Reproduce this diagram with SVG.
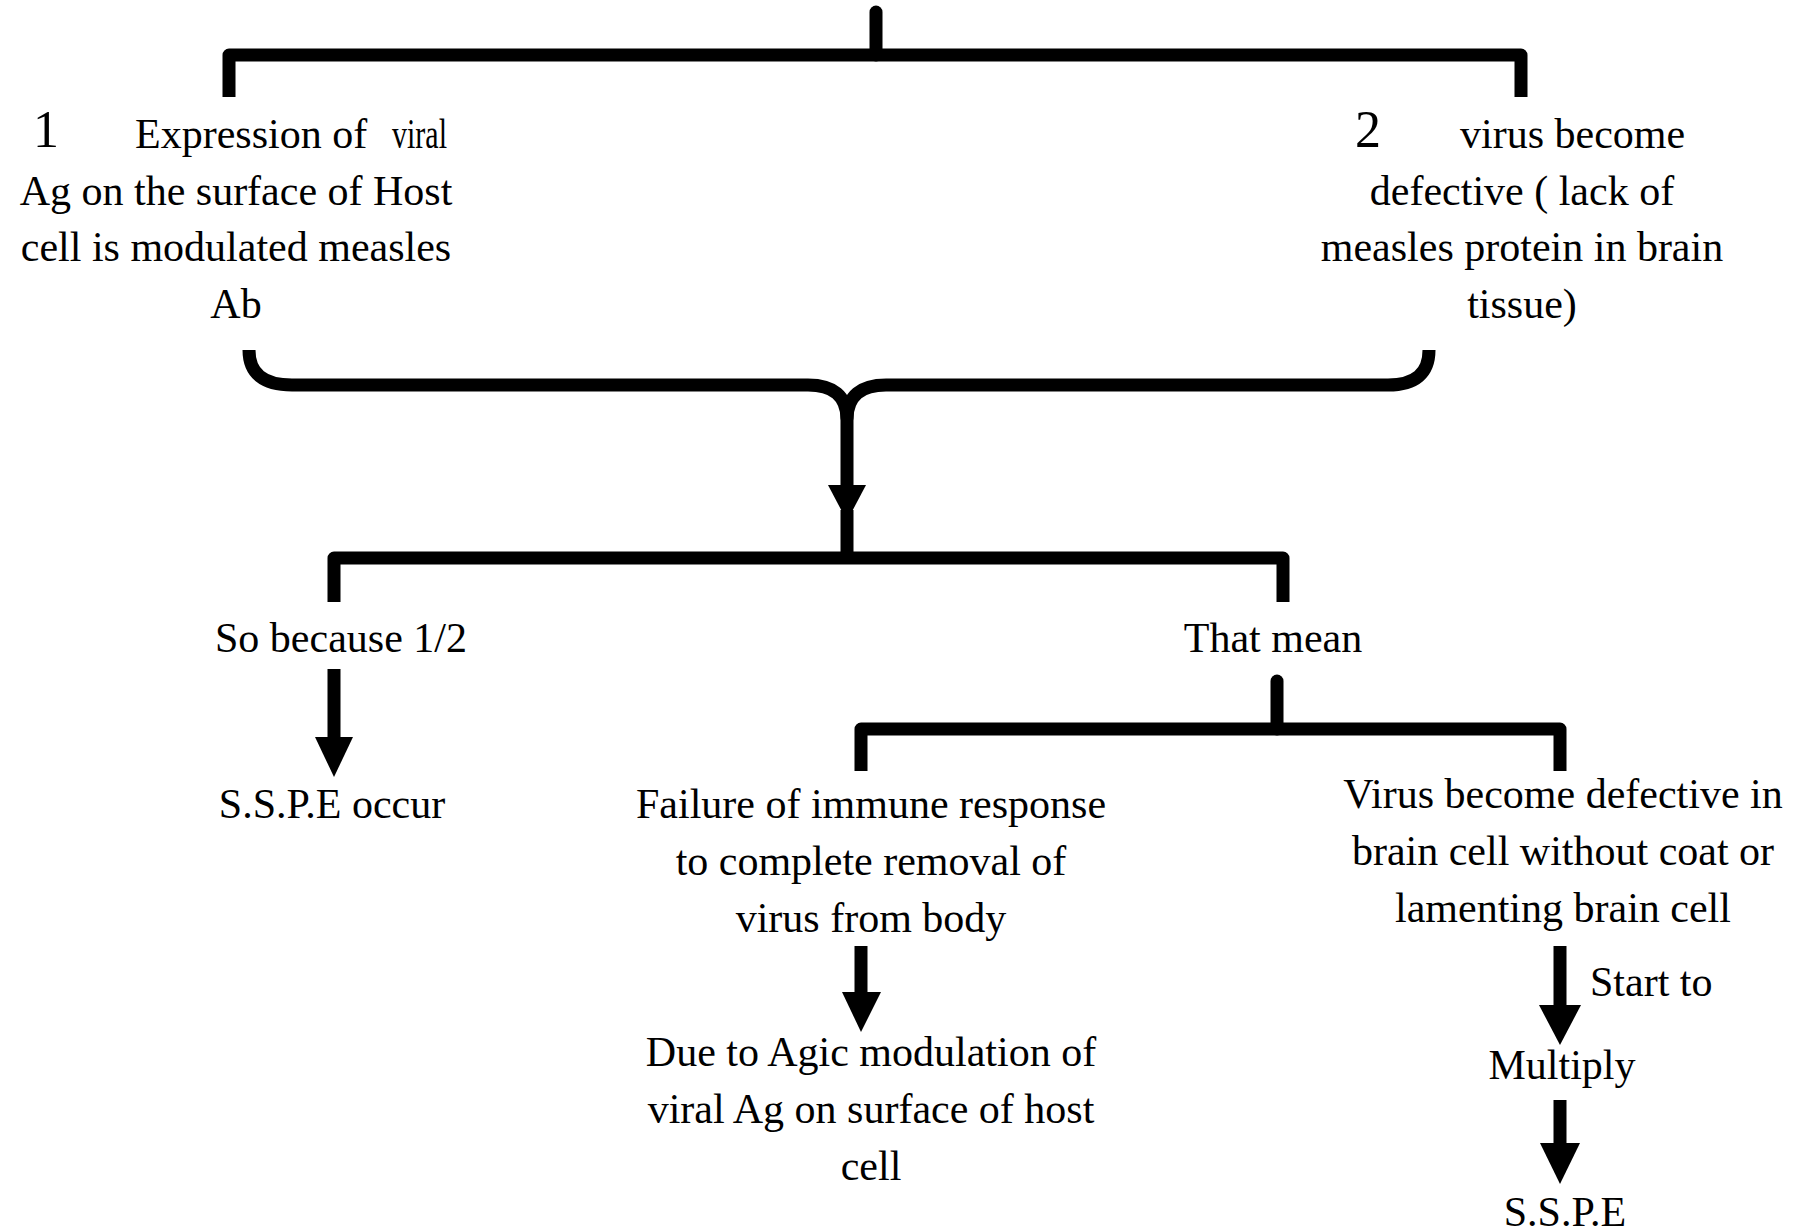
<svg xmlns="http://www.w3.org/2000/svg" width="1808" height="1232" viewBox="0 0 1808 1232">
<style>
text{font-family:"Liberation Serif","Times New Roman",serif;font-size:42px;fill:#000}
.c{text-anchor:middle}
.big{font-size:52px}
.ln{fill:none;stroke:#000;stroke-width:13;stroke-linejoin:round}
.st{fill:none;stroke:#000;stroke-width:13}
.hd{fill:#000}
</style>
<rect width="1808" height="1232" fill="#fff"/>
<g id="connectors">
<path class="ln" d="M876,12 V55" stroke-linecap="round"/>
<path class="ln" d="M229,97 V55 H1521 V97"/>
<path class="ln" d="M249,350 Q249,385 292,385 H808 Q846,385 847,418 Q848,385 886,385 H1388 Q1429,385 1429,350"/>
<path class="st" d="M847,405 V490"/>
<polygon class="hd" points="828,485 866,485 847,521"/>
<path class="st" d="M847,510 V558"/>
<path class="ln" d="M334,602 V558 H1283 V602"/>
<path class="st" d="M334,669 V742"/>
<polygon class="hd" points="315,737 353,737 334,777"/>
<path class="ln" d="M1277,681 V729" stroke-linecap="round"/>
<path class="ln" d="M861,771 V729 H1560 V771"/>
<path class="st" d="M861,946 V997"/>
<polygon class="hd" points="842,992 881,992 861,1032"/>
<path class="st" d="M1560,946 V1008"/>
<polygon class="hd" points="1539,1005 1581,1005 1560,1045"/>
<path class="st" d="M1560,1100 V1147"/>
<polygon class="hd" points="1540,1143 1580,1143 1560,1184"/>
</g>
<g id="node1">
<text class="big" x="33" y="147">1</text>
<text x="135" y="148">Expression of</text>
<text x="392" y="148" textLength="55" lengthAdjust="spacingAndGlyphs">viral</text>
<text class="c" x="236" y="205">Ag on the surface  of Host</text>
<text class="c" x="236" y="261">cell is  modulated measles</text>
<text class="c" x="236" y="318">Ab</text>
</g>
<g id="node2">
<text class="big" x="1355" y="147">2</text>
<text x="1460" y="148">virus become</text>
<text class="c" x="1522" y="205">defective ( lack of</text>
<text class="c" x="1522" y="261">measles protein in brain</text>
<text class="c" x="1522" y="318">tissue)</text>
</g>
<g id="node3"><text class="c" x="341" y="652">So because 1/2</text></g>
<g id="node4"><text class="c" x="1273" y="652">That mean</text></g>
<g id="node5"><text class="c" x="332" y="818">S.S.P.E occur</text></g>
<g id="node6">
<text class="c" x="871" y="818">Failure of immune response</text>
<text class="c" x="871" y="875">to complete removal of</text>
<text class="c" x="871" y="932">virus from body</text>
</g>
<g id="node7">
<text class="c" x="871" y="1066">Due to Agic modulation of</text>
<text class="c" x="871" y="1123">viral Ag on surface of host</text>
<text class="c" x="871" y="1180">cell</text>
</g>
<g id="node8">
<text class="c" x="1563" y="808">Virus become defective in</text>
<text class="c" x="1563" y="865">brain cell without coat or</text>
<text class="c" x="1563" y="922">lamenting brain cell</text>
</g>
<g id="label-start"><text x="1590" y="996">Start to</text></g>
<g id="node9"><text class="c" x="1562" y="1079">Multiply</text></g>
<g id="node10"><text class="c" x="1565" y="1226">S.S.P.E</text></g>
</svg>
